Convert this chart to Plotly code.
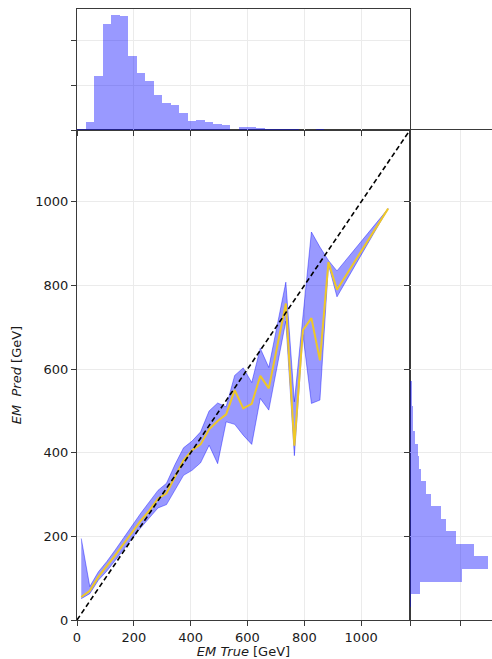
import numpy as np
import plotly.graph_objects as go

# ---- data ----
# binned mean prediction vs. true energy (GeV)
x_true = [15, 45, 75, 105, 135, 165, 195, 225, 255, 285, 315, 345, 375, 405, 435, 465, 495,
          525, 555, 585, 615, 645, 675, 735, 765, 795, 825, 855, 885, 915, 1095]
pred_mean = [55, 70, 103, 128, 155, 183, 210, 238, 262, 290, 303, 342, 382, 406, 420, 456, 476,
             492, 550, 506, 517, 584, 554, 757, 417, 693, 722, 621, 856, 790, 984]
pred_upper = [195, 80, 115, 140, 168, 198, 228, 256, 283, 310, 327, 372, 412, 428, 450, 500, 519,
              510, 585, 603, 568, 650, 604, 808, 522, 730, 928, 892, 860, 835, 984]
pred_lower = [51, 63, 95, 117, 143, 170, 196, 221, 245, 268, 276, 312, 346, 358, 376, 418, 374,
              474, 468, 442, 420, 530, 502, 715, 393, 683, 518, 526, 850, 773, 984]

# histogram of true energies (bin width 30 GeV starting at 0)
true_bin_start = 0
true_bin_width = 30
true_counts = [15, 178, 1204, 2379, 2572, 2543, 1651, 1271, 1086, 773, 602, 558, 387, 193, 223,
               178, 141, 104, 3, 67, 60, 45, 22, 15, 22, 15, 10, 10, 22, 3, 10, 0, 0, 0, 0, 0, 0, 2]

# histogram of predicted energies (bin width 30 GeV starting at 32)
pred_bin_start = 32
pred_bin_width = 30
pred_counts = [52, 412, 2092, 3120, 2572, 1828, 1428, 1240, 852, 652, 452, 348, 320, 212, 132,
               132, 80, 80]

axis_max = 1172
main_ticks = [0, 200, 400, 600, 800, 1000]

true_centers = true_bin_start + true_bin_width * (np.arange(len(true_counts)) + 0.5)
pred_centers = pred_bin_start + pred_bin_width * (np.arange(len(pred_counts)) + 0.5)

W, H = 492, 659
x0, x1 = 77 / W, 410 / W
y0, y1 = 1 - 620 / H, 1 - 130 / H
ytop = 1 - 9 / H

band_col = 'rgba(0,0,255,0.4)'
grid_col = '#ebebeb'
axis_col = '#3a3a3a'
font = dict(family='DejaVu Sans', size=13, color='#1a1a1a')

fig = go.Figure()

fig.add_trace(go.Bar(x=true_centers, y=true_counts, width=true_bin_width,
                     marker=dict(color=band_col, line=dict(width=0)),
                     xaxis='x2', yaxis='y2', showlegend=False))
fig.add_trace(go.Bar(y=pred_centers, x=pred_counts, width=pred_bin_width, orientation='h',
                     marker=dict(color=band_col, line=dict(width=0)),
                     xaxis='x3', yaxis='y3', showlegend=False))

fig.add_trace(go.Scatter(x=x_true, y=pred_lower, mode='lines',
                         line=dict(color=band_col, width=1), showlegend=False))
fig.add_trace(go.Scatter(x=x_true, y=pred_upper, mode='lines', fill='tonexty',
                         fillcolor=band_col, line=dict(color=band_col, width=1), showlegend=False))
fig.add_trace(go.Scatter(x=x_true, y=pred_mean, mode='lines',
                         line=dict(color='rgb(238,200,40)', width=2), showlegend=False))
fig.add_trace(go.Scatter(x=[0, axis_max], y=[0, axis_max], mode='lines',
                         line=dict(color='black', width=1.6, dash='5px,3px'), showlegend=False))

common = dict(showline=True, linecolor=axis_col, linewidth=1, mirror=True,
              ticks='outside', ticklen=5, tickcolor=axis_col, tickwidth=1,
              showgrid=True, gridcolor=grid_col, gridwidth=1, zeroline=False,
              tickfont=font, automargin=False)

fig.update_layout(
    width=W, height=H, margin=dict(l=0, r=0, t=0, b=0),
    paper_bgcolor='white', plot_bgcolor='white', bargap=0,
    font=font,
    xaxis=dict(domain=[x0, x1], range=[0, axis_max], anchor='y', tickvals=main_ticks,
               title=dict(text='<i>EM True</i> [GeV]', font=font, standoff=2), **common),
    yaxis=dict(domain=[y0, y1], range=[0, axis_max], anchor='x', tickvals=main_ticks,
               title=dict(text='<i>EM  Pred</i> [GeV]', font=font, standoff=10), **common),
    xaxis2=dict(domain=[x0, x1], range=[0, axis_max], anchor='y2', tickvals=main_ticks,
                showticklabels=False, **common),
    yaxis2=dict(domain=[y1, ytop], range=[0, 2707], anchor='x2', tickvals=[0, 1000, 2000],
                showticklabels=False, **common),
    xaxis3=dict(domain=[x1, 1.0], range=[0, 3280], anchor='y3', tickvals=[0, 2000],
                showticklabels=False, **common),
    yaxis3=dict(domain=[y0, y1], range=[0, axis_max], anchor='x3', tickvals=main_ticks,
                showticklabels=False, **common),
)

fig.write_html('out.html')
